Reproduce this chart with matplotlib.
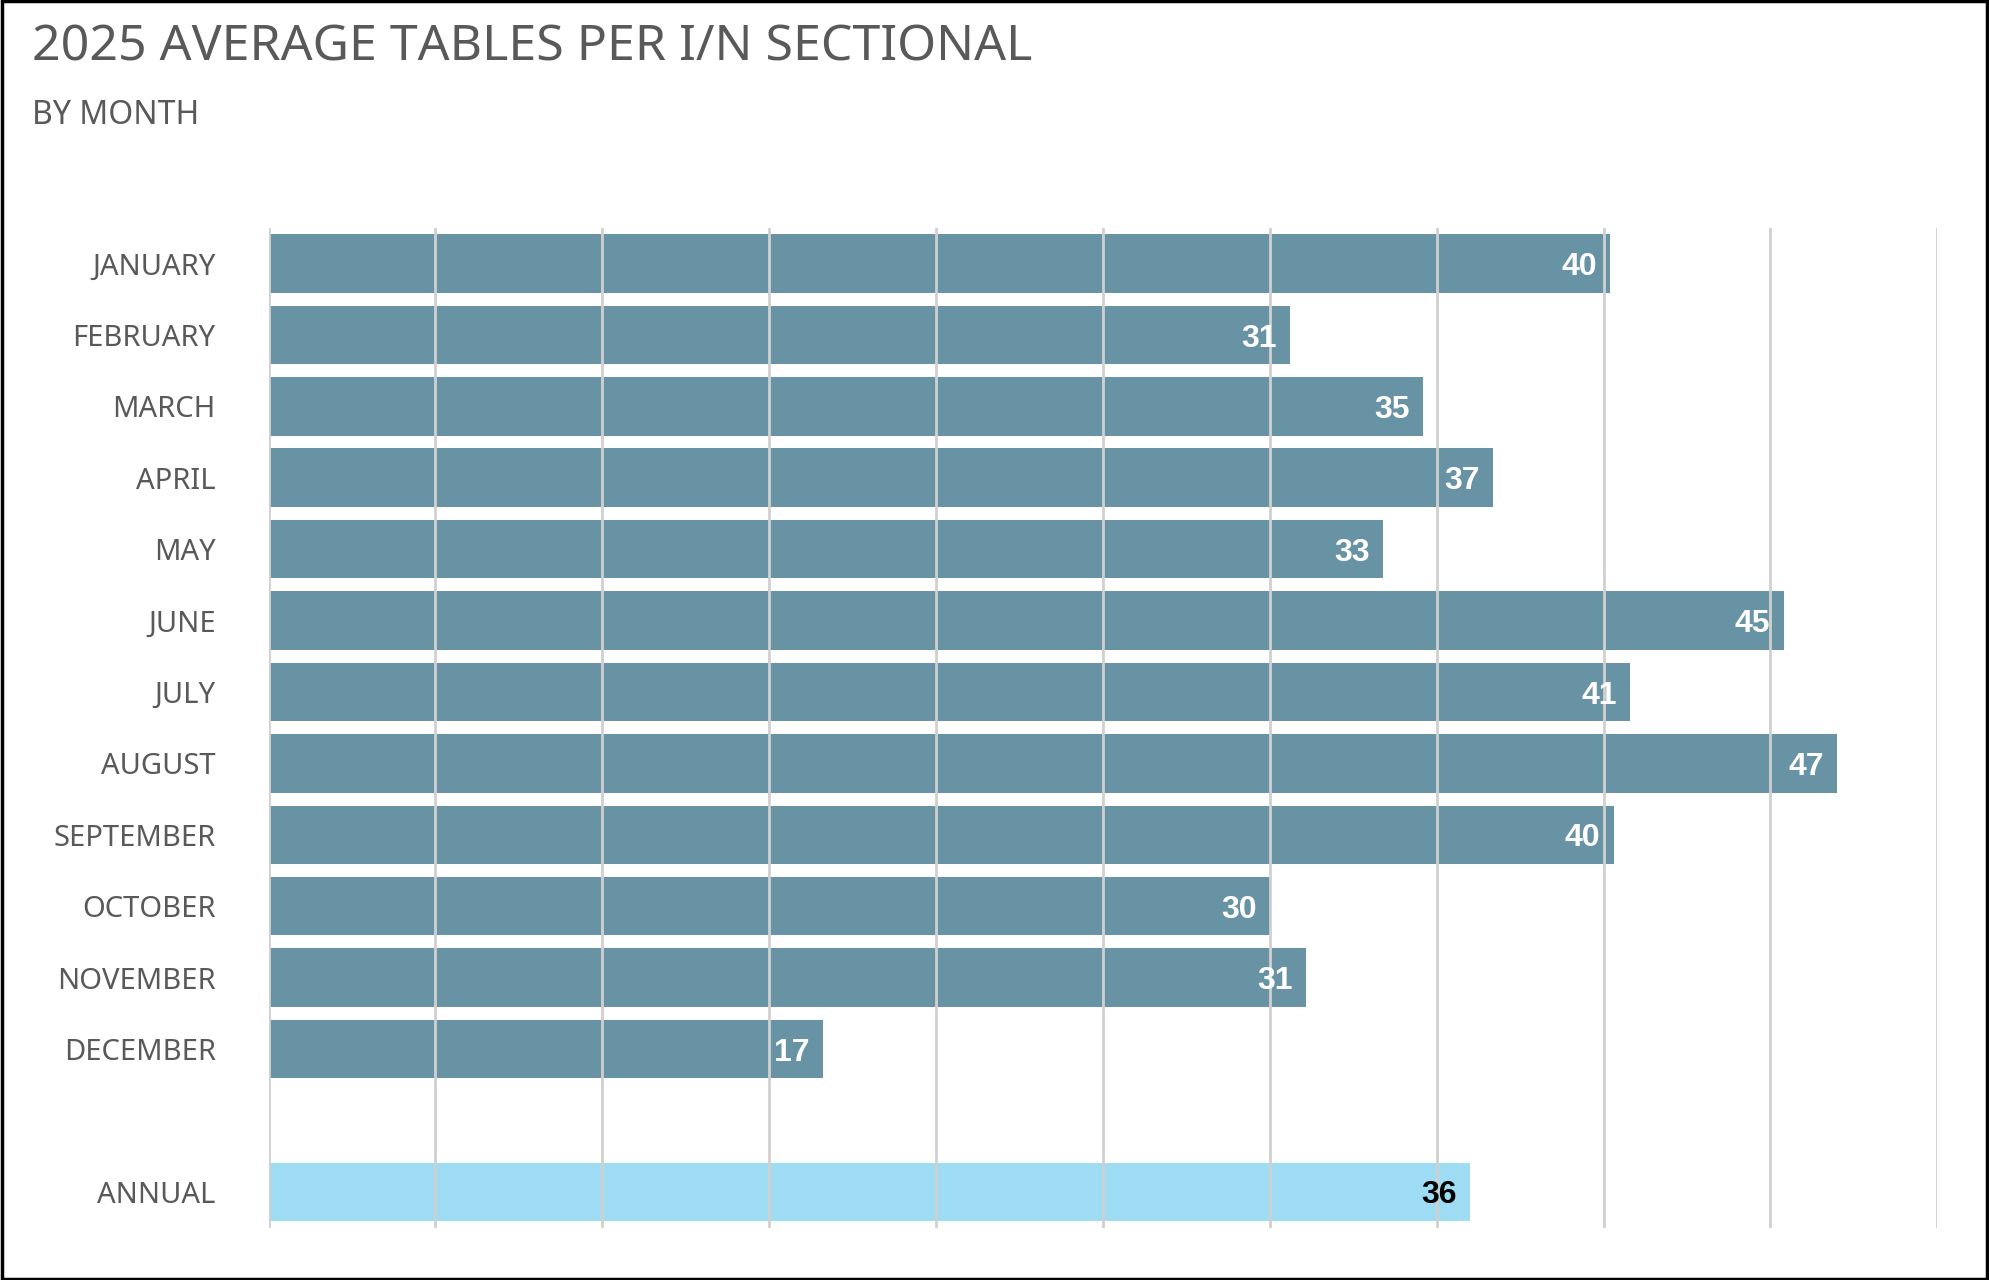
import matplotlib.pyplot as plt
from matplotlib.patches import Rectangle

months = ["JANUARY", "FEBRUARY", "MARCH", "APRIL", "MAY", "JUNE", "JULY",
          "AUGUST", "SEPTEMBER", "OCTOBER", "NOVEMBER", "DECEMBER"]
month_vals = [40.2, 30.6, 34.6, 36.7, 33.4, 45.4, 40.8, 47.0, 40.3, 30.0, 31.1, 16.6]
annual_label = "ANNUAL"
annual_val = 36.0

plt.rcParams['font.family'] = ['Noto Sans', 'DejaVu Sans']

fig = plt.figure(figsize=(19.89, 12.8), dpi=100)
fig.patches.append(Rectangle((0.001, 0.001), 0.998, 0.998, transform=fig.transFigure,
                             fill=False, edgecolor="black", linewidth=2.5))
ax = fig.add_axes([0.135, 0.041, 0.839, 0.781])

ypos = list(range(len(months))) + [13]
vals = month_vals + [annual_val]
colors = ["#6893a5"] * len(months) + ["#9edcf3"]
ax.barh(ypos, vals, height=0.82, color=colors, zorder=1)
for y, v, c in zip(ypos, vals, colors):
    ax.text(v - 0.4, y + 0.05, f"{v:.0f}", ha="right", va="center", fontsize=23,
            fontweight="bold", color="black" if c == "#9edcf3" else "white",
            family=["Liberation Sans", "DejaVu Sans"], zorder=3)

ax.set_xlim(0, 50)
ax.set_ylim(13.5, -0.5)
ax.set_xticks(range(0, 51, 5))
ax.set_xticklabels([])
ax.grid(axis="x", color="#d0d0d0", linewidth=2, zorder=2)
ax.set_axisbelow(False)
ax.set_yticks(ypos)
ax.set_yticklabels(months + [annual_label], fontsize=21, color="#595959")
ax.tick_params(length=0, pad=38)
for s in ax.spines.values():
    s.set_visible(False)

fig.text(0.016, 0.963, "2025 AVERAGE TABLES PER I/N SECTIONAL", fontsize=36,
         color="#595959", va="center")
fig.text(0.016, 0.91, "BY MONTH", fontsize=23, color="#595959", va="center")

fig.savefig("out.png", dpi=100)
